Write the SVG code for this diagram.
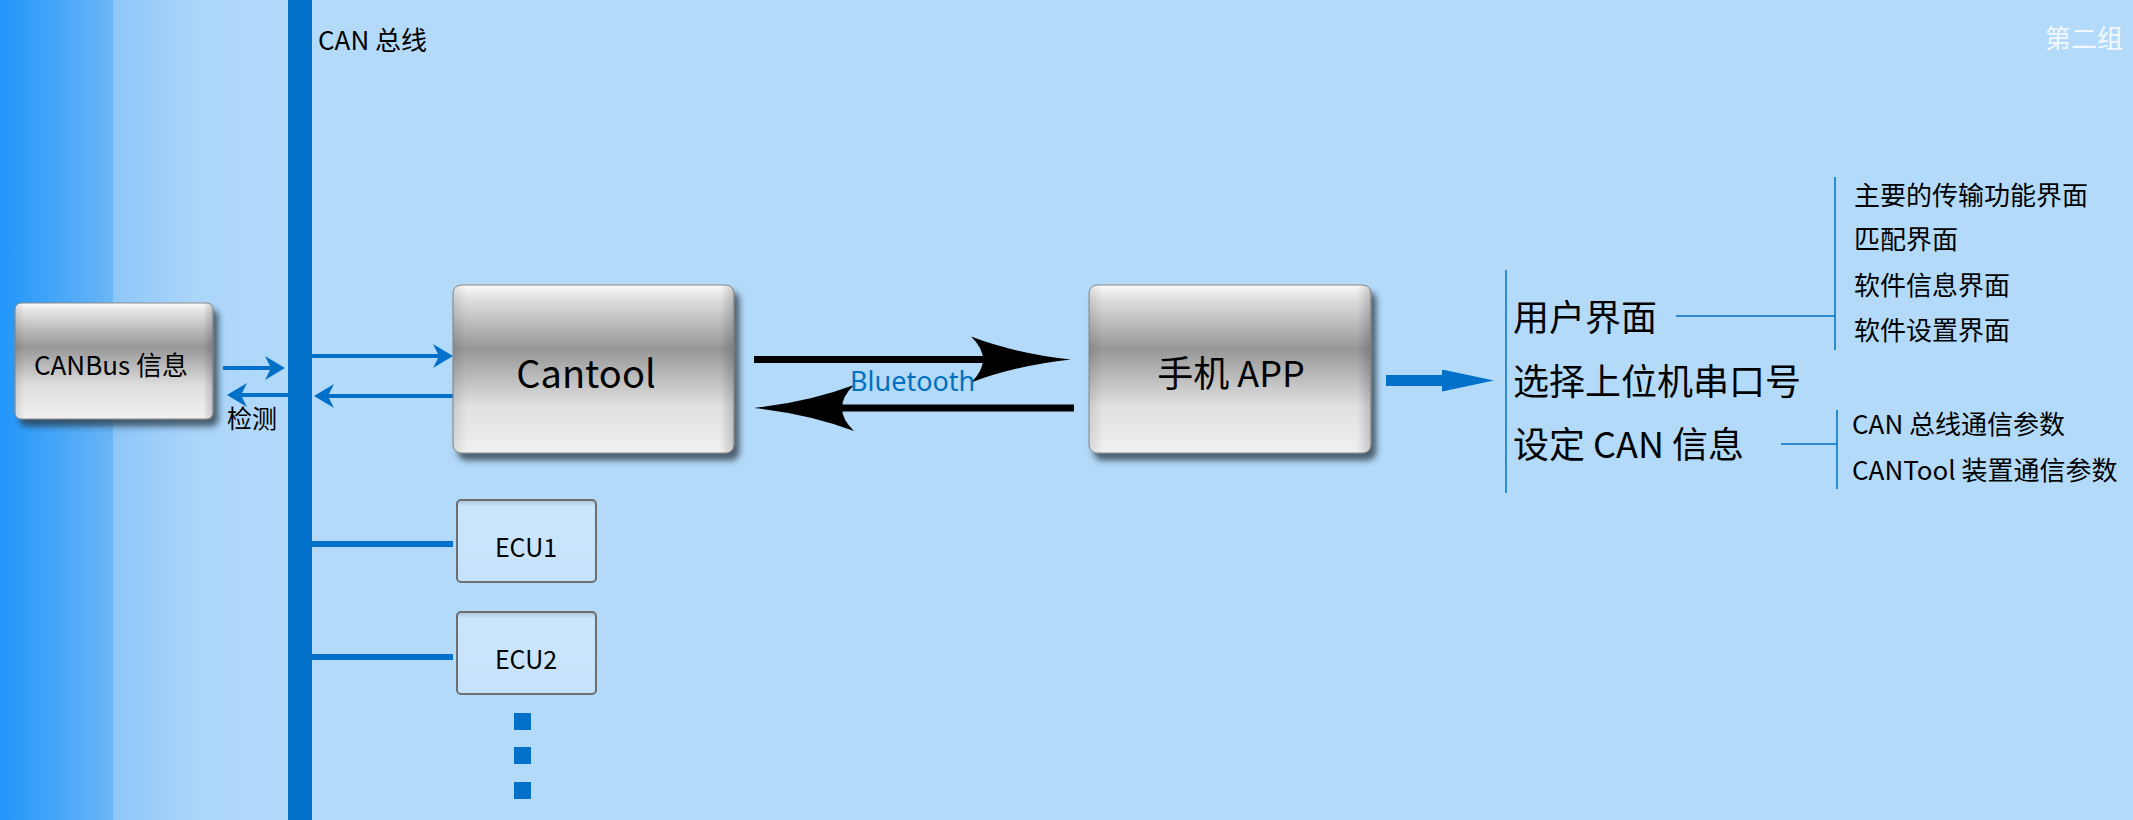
<svg xmlns="http://www.w3.org/2000/svg" width="2133" height="820" viewBox="0 0 2133 820">
  <defs>
    <style>
      .t { font-family: "Noto Sans CJK SC", "Noto Sans", sans-serif; fill: #000; }
      .blue { stroke: #0070C8; fill: none; }
      .thin { stroke: #0070C0; stroke-width: 1.5; fill: none; }
      .blk { stroke: #000; stroke-width: 7; fill: none; }
      .dot { fill: #0070C8; }
    </style>
    <linearGradient id="stripA" x1="0" y1="0" x2="1" y2="0">
      <stop offset="0" stop-color="#2196FA"/>
      <stop offset="1" stop-color="#6BB6F6"/>
    </linearGradient>
    <linearGradient id="stripB" x1="0" y1="0" x2="1" y2="0">
      <stop offset="0" stop-color="#8CC6F8"/>
      <stop offset="0.45" stop-color="#ABD5FA"/>
      <stop offset="1" stop-color="#B4DAFA"/>
    </linearGradient>
    <linearGradient id="metal" x1="0" y1="0" x2="0" y2="1">
      <stop offset="0" stop-color="#FBFBFB"/>
      <stop offset="0.08" stop-color="#E0E0E0"/>
      <stop offset="0.38" stop-color="#979797"/>
      <stop offset="0.72" stop-color="#E0E0E0"/>
      <stop offset="1" stop-color="#F0F0F0"/>
    </linearGradient>
    <linearGradient id="edge" x1="0" y1="0" x2="1" y2="0">
      <stop offset="0" stop-color="#000" stop-opacity="0.10"/>
      <stop offset="0.05" stop-color="#000" stop-opacity="0"/>
      <stop offset="0.95" stop-color="#000" stop-opacity="0"/>
      <stop offset="1" stop-color="#000" stop-opacity="0.18"/>
    </linearGradient>
    <linearGradient id="ecuFill" x1="0" y1="0" x2="0" y2="1">
      <stop offset="0" stop-color="#A9C4DA"/>
      <stop offset="0.08" stop-color="#CBE5FB"/>
      <stop offset="1" stop-color="#C6E2FA"/>
    </linearGradient>
    <filter id="shadow" x="-10%" y="-10%" width="125%" height="130%">
      <feDropShadow dx="5" dy="7" stdDeviation="3" flood-color="#2A3540" flood-opacity="0.75"/>
    </filter>
    <marker id="ba" markerUnits="userSpaceOnUse" viewBox="0 0 20 24" markerWidth="20" markerHeight="24" refX="6" refY="12" orient="auto">
      <path d="M0,0 L20,12 L0,24 L6,12 Z" fill="#0070C8"/>
    </marker>
    <marker id="bk" markerUnits="userSpaceOnUse" viewBox="0 0 100 48" markerWidth="100" markerHeight="48" refX="22" refY="24" orient="auto">
      <path d="M0,1 Q45,18 100,24 Q45,30 0,47 Q24,24 0,1 Z" fill="#000"/>
    </marker>
    <marker id="bb" markerUnits="userSpaceOnUse" viewBox="0 0 52 22" markerWidth="52" markerHeight="22" refX="0" refY="11" orient="auto">
      <path d="M0,0 L52,11 L0,22 Z" fill="#0070C8"/>
    </marker>
  </defs>

  <!-- background -->
  <rect x="0" y="0" width="2133" height="820" fill="#B4DAFA"/>
  <rect x="0" y="0" width="113" height="820" fill="url(#stripA)"/>
  <rect x="113" y="0" width="180" height="820" fill="url(#stripB)"/>

  <!-- CAN bus -->
  <g id="can-bus">
    <rect x="288" y="0" width="24" height="820" fill="#0070C8"/>
    <text class="t" x="318" y="50" font-size="26">CAN 总线</text>
  </g>

  <text class="t" x="2045" y="48" font-size="26" style="fill:#F2F8FF">第二组</text>

  <!-- connectors -->
  <g id="connectors">
    <line class="blue" stroke-width="4" x1="223" y1="368" x2="271" y2="368" marker-end="url(#ba)"/>
    <line class="blue" stroke-width="4" x1="288" y1="395" x2="241" y2="395" marker-end="url(#ba)"/>
    <line class="blue" stroke-width="4" x1="312" y1="356" x2="439" y2="356" marker-end="url(#ba)"/>
    <line class="blue" stroke-width="4" x1="453" y1="396" x2="328" y2="396" marker-end="url(#ba)"/>
    <line class="blue" stroke-width="6" x1="312" y1="544" x2="453" y2="544"/>
    <line class="blue" stroke-width="6" x1="312" y1="657" x2="453" y2="657"/>
    <line class="blk" x1="754" y1="359.5" x2="993" y2="359.5" marker-end="url(#bk)"/>
    <line class="blk" x1="1074" y1="408" x2="832" y2="408" marker-end="url(#bk)"/>
    <text x="850" y="391" font-size="27" style="font-family:'Noto Sans','Noto Sans CJK SC',sans-serif;fill:#0070C0">Bluetooth</text>
    <line class="blue" stroke-width="11" x1="1386" y1="380.5" x2="1442" y2="380.5" marker-end="url(#bb)"/>
    <text class="t" x="227" y="428" font-size="25">检测</text>
  </g>

  <!-- CANBus info -->
  <g id="canbus-info">
    <rect x="15" y="303" width="198" height="116" rx="6" fill="url(#metal)" stroke="#8A8A8A" stroke-width="1" filter="url(#shadow)"/>
    <rect x="15" y="303" width="198" height="116" rx="6" fill="url(#edge)"/>
    <text class="t" x="111" y="375" font-size="26" text-anchor="middle">CANBus 信息</text>
  </g>

  <!-- Cantool -->
  <g id="cantool">
    <rect x="453" y="285" width="281" height="168" rx="8" fill="url(#metal)" stroke="#8A8A8A" stroke-width="1" filter="url(#shadow)"/>
    <rect x="453" y="285" width="281" height="168" rx="8" fill="url(#edge)"/>
    <text class="t" x="586" y="388" font-size="38" text-anchor="middle">Cantool</text>
  </g>

  <!-- Phone APP -->
  <g id="phone-app">
    <rect x="1089" y="285" width="282" height="168" rx="8" fill="url(#metal)" stroke="#8A8A8A" stroke-width="1" filter="url(#shadow)"/>
    <rect x="1089" y="285" width="282" height="168" rx="8" fill="url(#edge)"/>
    <text class="t" x="1231" y="387" font-size="36" text-anchor="middle">手机 APP</text>
  </g>

  <!-- ECUs -->
  <g id="ecu1">
    <rect x="457" y="500" width="139" height="82" rx="4" fill="url(#ecuFill)" stroke="#6E6E6E" stroke-width="2"/>
    <text class="t" x="526" y="557" font-size="25" text-anchor="middle">ECU1</text>
  </g>
  <g id="ecu2">
    <rect x="457" y="612" width="139" height="82" rx="4" fill="url(#ecuFill)" stroke="#6E6E6E" stroke-width="2"/>
    <text class="t" x="526" y="669" font-size="25" text-anchor="middle">ECU2</text>
  </g>
  <g id="ellipsis">
    <rect class="dot" x="514" y="713" width="17" height="17"/>
    <rect class="dot" x="514" y="747" width="17" height="17"/>
    <rect class="dot" x="514" y="782" width="17" height="17"/>
  </g>

  <!-- App function tree -->
  <g id="app-functions">
    <line class="thin" x1="1506" y1="270" x2="1506" y2="493"/>
    <text class="t" x="1513" y="331" font-size="36">用户界面</text>
    <text class="t" x="1513" y="395" font-size="36">选择上位机串口号</text>
    <text class="t" x="1513" y="458" font-size="36">设定 CAN 信息</text>
  </g>
  <g id="ui-pages">
    <line class="thin" x1="1676" y1="316" x2="1835" y2="316"/>
    <line class="thin" x1="1835" y1="177" x2="1835" y2="350"/>
    <text class="t" x="1854" y="205" font-size="26">主要的传输功能界面</text>
    <text class="t" x="1854" y="249" font-size="26">匹配界面</text>
    <text class="t" x="1854" y="295" font-size="26">软件信息界面</text>
    <text class="t" x="1854" y="340" font-size="26">软件设置界面</text>
  </g>
  <g id="can-settings">
    <line class="thin" x1="1781" y1="444" x2="1837" y2="444"/>
    <line class="thin" x1="1837" y1="410" x2="1837" y2="489"/>
    <text class="t" x="1852" y="434" font-size="26">CAN 总线通信参数</text>
    <text class="t" x="1852" y="480" font-size="26">CANTool 装置通信参数</text>
  </g>
</svg>
